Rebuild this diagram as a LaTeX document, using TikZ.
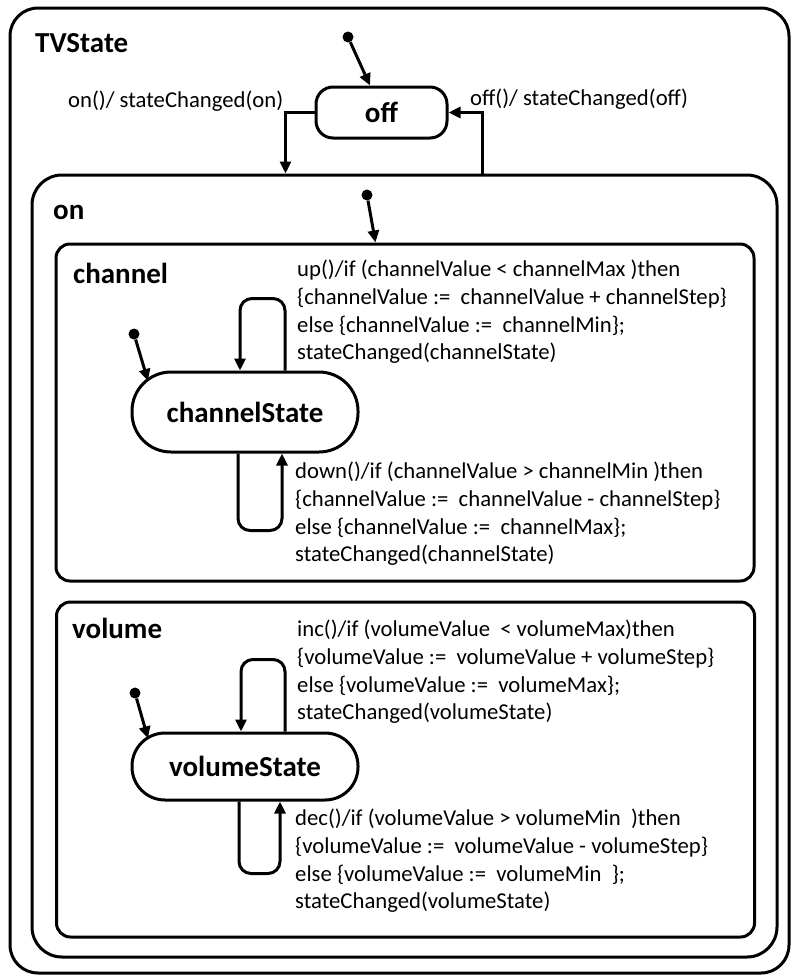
\documentclass[tikz,border=0pt]{standalone}
\usepackage{fontspec}
\setmainfont{Carlito}
\usetikzlibrary{arrows.meta,calc}
\newcommand\diagtext{\fontsize{22.7}{27.7}\selectfont}
\newcommand\diagtitle{\fontsize{29}{35}\selectfont\bfseries}
\begin{document}
\begin{tikzpicture}[x=1pt,y=-1pt,
  region/.style={draw, line width=3pt, rounded corners=#1, inner sep=0pt},
  statebox/.style={draw, line width=3pt, rounded corners=#1, inner sep=0pt, font=\diagtitle},
  pseudo/.style={circle, fill, minimum size=11pt, inner sep=0pt},
  arr/.style={line width=3pt, -{Triangle[length=12pt,width=11pt]}},
  loop/.style={arr, rounded corners=12pt},
  txt/.style={font=\diagtext, align=left, anchor=north west, inner sep=0pt},
  title/.style={font=\diagtitle, anchor=base west, inner sep=0pt}]
\useasboundingbox (0,0) rectangle (791,975);

% composite states
\node[region=28pt, minimum width=779pt, minimum height=965pt] (tv) at (399.5,490.5) {};
\node[region=30pt, minimum width=745pt, minimum height=782pt] (onbox) at (404.5,566) {};
\node[region=14pt, minimum width=698pt, minimum height=337pt] (chbox) at (405,412.5) {};
\node[region=14pt, minimum width=698pt, minimum height=335pt] (volbox) at (405.5,769.5) {};

% region titles
\node[title] (tvlbl) at (35,52) {TVState};
\node[title] (onlbl) at (53,219) {on};
\node[title] (chlbl) at (73,283) {channel};
\node[title] (vollbl) at (72,638) {volume};

% simple states
\node[statebox=17pt, minimum width=131pt, minimum height=51pt] (off) at (381.5,112.5) {off};
\node[statebox=39pt, minimum width=226pt, minimum height=80pt] (chst) at (245,412) {channelState};
\node[statebox=33pt, minimum width=226pt, minimum height=67pt] (volst) at (245,766.5) {volumeState};

% initial pseudostates
\node[pseudo] (i0) at (348,37) {};
\node[pseudo] (i1) at (367,195) {};
\node[pseudo] (i2) at (134,334) {};
\node[pseudo] (i3) at (135,693) {};

\draw[arr] (i0) -- ($(off.north)+(-11.5,0)$);
\draw[arr] (i1) -- ($(chbox.north west)+(321,0)$);
\draw[arr] (i2) -- ($(chst.center)+(-97,-31)$);
\draw[arr] (i3) -- ($(volst.center)+(-97,-28)$);

% on / off transitions
\draw[arr] (off.west) -| ($(onbox.north west)+(255,0)$);
\draw[arr] ($(onbox.north west)+(452,0)$) |- (off.east);
\node[title, font=\diagtext] (onlab) at (68,107) {on()/ stateChanged(on)};
\node[title, font=\diagtext] (offlab) at (470,105) {off()/ stateChanged(off)};

% channel self transitions
\draw[loop] ($(chst.north)+(40,0)$) -- ++(0,-72) -| ($(chst.north)+(-5,0)$);
\draw[loop] ($(chst.south)+(-7,0)$) -- ++(0,77) -| ($(chst.south)+(37,0)$);
\node[txt] (uplab) at (297,260) {up()/if (channelValue < channelMax )then\\
\{channelValue :=~ channelValue + channelStep\}\\
else \{channelValue :=~ channelMin\};\\
stateChanged(channelState)};
\node[txt] (downlab) at (295,462) {down()/if (channelValue > channelMin )then\\
\{channelValue :=~ channelValue - channelStep\}\\
else \{channelValue :=~ channelMax\};\\
stateChanged(channelState)};

% volume self transitions
\draw[loop] ($(volst.north)+(40,0)$) -- ++(0,-72) -| ($(volst.north)+(-4,0)$);
\draw[loop] ($(volst.south)+(-6,0)$) -- ++(0,72) -| ($(volst.south)+(35,0)$);
\node[txt] (inclab) at (297,620) {inc()/if (volumeValue~ < volumeMax)then\\
\{volumeValue :=~ volumeValue + volumeStep\}\\
else \{volumeValue :=~ volumeMax\};\\
stateChanged(volumeState)};
\node[txt] (declab) at (295,809) {dec()/if (volumeValue > volumeMin~ )then\\
\{volumeValue :=~ volumeValue - volumeStep\}\\
else \{volumeValue :=~ volumeMin~ \};\\
stateChanged(volumeState)};
\end{tikzpicture}
\end{document}
